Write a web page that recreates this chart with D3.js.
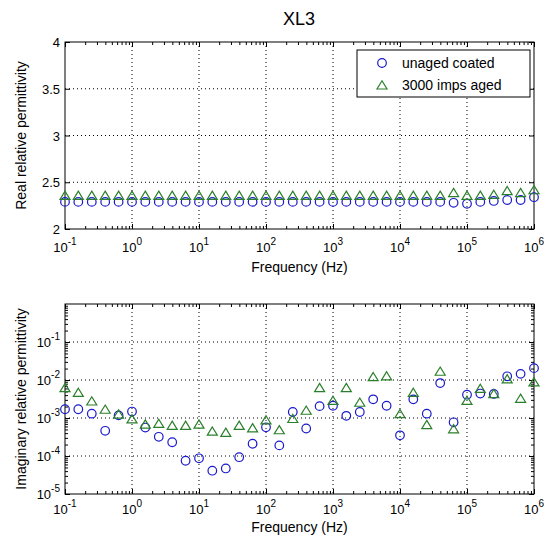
<!DOCTYPE html>
<html>
<head>
<meta charset="utf-8">
<script src="https://cdn.jsdelivr.net/npm/d3@7"></script>
<style>
body { margin: 0; background: #fff; }
text { font-family: "Liberation Sans", Arial, sans-serif; fill: #000; }
</style>
</head>
<body>
<div id="chart"></div>
<script>
var freqs = [0.1, 0.158, 0.251, 0.398, 0.631, 1, 1.58, 2.51, 3.98, 6.31,
    10, 15.8, 25.1, 39.8, 63.1, 100, 158, 251, 398, 631,
    1000, 1580, 2510, 3980, 6310, 10000, 15800, 25100, 39800, 63100,
    100000, 158000, 251000, 398000, 631000, 1000000];

var realUnaged = [2.29, 2.29, 2.29, 2.29, 2.29, 2.29, 2.29, 2.29, 2.29, 2.29,
    2.29, 2.29, 2.29, 2.29, 2.29, 2.29, 2.29, 2.29, 2.29, 2.29,
    2.29, 2.29, 2.29, 2.29, 2.29, 2.29, 2.29, 2.29, 2.29, 2.28,
    2.27, 2.29, 2.30, 2.31, 2.31, 2.34];
var realAged = [2.36, 2.36, 2.36, 2.36, 2.36, 2.36, 2.36, 2.36, 2.36, 2.36,
    2.36, 2.36, 2.36, 2.36, 2.36, 2.36, 2.36, 2.36, 2.36, 2.36,
    2.36, 2.36, 2.36, 2.36, 2.36, 2.36, 2.36, 2.36, 2.36, 2.39,
    2.36, 2.36, 2.37, 2.41, 2.39, 2.42];

var imagUnaged = [1.7e-3, 1.7e-3, 1.3e-3, 4.6e-4, 1.17e-3, 1.48e-3, 5.6e-4, 3.2e-4, 2.3e-4, 7.5e-5,
    8.7e-5, 4.1e-5, 4.7e-5, 9.3e-5, 2.1e-4, 5.7e-4, 1.9e-4, 1.44e-3, 5.3e-4, 2.05e-3,
    2.1e-3, 1.14e-3, 1.44e-3, 3.1e-3, 2.1e-3, 3.5e-4, 3.1e-3, 1.3e-3, 8.3e-3, 7.7e-4,
    4.1e-3, 4.4e-3, 4.3e-3, 1.25e-2, 1.45e-2, 2.05e-2];
var imagAged = [6.3e-3, 4.7e-3, 2.8e-3, 1.7e-3, 1.27e-3, 9.5e-4, 6.9e-4, 7.2e-4, 6.4e-4, 6.4e-4,
    6.9e-4, 4.5e-4, 4.2e-4, 6.4e-4, 5.5e-4, 8.9e-4, 4.9e-4, 9.7e-4, 1.6e-3, 6.3e-3,
    2.9e-3, 6.3e-3, 2.6e-3, 1.22e-2, 1.28e-2, 1.3e-3, 4.7e-3, 6.7e-4, 1.7e-2, 5.2e-4,
    2.9e-3, 6.0e-3, 4.4e-3, 1.07e-2, 3.3e-3, 8.9e-3];

var freqTicks = [0.1, 1, 10, 100, 1000, 10000, 100000, 1000000];
var realTicks = [2, 2.5, 3, 3.5, 4];
var imagTicks = [1e-5, 1e-4, 1e-3, 1e-2, 1e-1];
var seriesNames = ["unaged coated", "3000 imps aged"];

var blue = "#1a1acc", green = "#2a7f2a";
var plotW = 469;

var svg = d3.select("#chart")
    .append("svg")
    .attr("width", 550)
    .attr("height", 535);

var x = d3.scaleLog().domain([0.1, 1e6]).range([0, plotW]);

// minor ticks 2..9 for each decade inside a log domain
function minorTicks(lo, hi) {
    var out = [];
    for (var e = Math.floor(Math.log10(lo)); e <= Math.ceil(Math.log10(hi)); e++) {
        for (var m = 2; m <= 9; m++) {
            var v = m * Math.pow(10, e);
            if (v > lo && v < hi) out.push(v);
        }
    }
    return out;
}

// "10" with superscript exponent
function powLabel(sel) {
    sel.each(function(d) {
        var t = d3.select(this).text("");
        t.append("tspan").text("10");
        t.append("tspan")
            .attr("dy", -7)
            .style("font-size", "10px")
            .text(Math.round(Math.log10(d)));
    });
}

var triangle = "M0,-4.2L5,4L-5,4Z";

function panel(top, h, y, yTicks, logY, yLabel, tickY, xLabelY, dataA, dataB) {
    var g = svg.append("g").attr("transform", "translate(65," + top + ")");

    // grid
    g.append("g").selectAll("line")
        .data(freqTicks.slice(1, -1))
        .enter().append("line")
        .attr("x1", function(d) { return x(d); })
        .attr("x2", function(d) { return x(d); })
        .attr("y1", 0).attr("y2", h)
        .attr("stroke", "#000").attr("stroke-width", 1)
        .attr("stroke-dasharray", "1,3");
    g.append("g").selectAll("line")
        .data(yTicks.filter(function(d) { return y(d) > 0.5 && y(d) < h - 0.5; }))
        .enter().append("line")
        .attr("x1", 0).attr("x2", plotW)
        .attr("y1", function(d) { return y(d); })
        .attr("y2", function(d) { return y(d); })
        .attr("stroke", "#000").attr("stroke-width", 1)
        .attr("stroke-dasharray", "1,3");

    // inward ticks on all four sides
    var yMinor = logY ? minorTicks(1e-5, y.domain()[1]) : [];
    var axes = [
        [d3.axisBottom(x), "translate(0," + h + ")", freqTicks, minorTicks(0.1, 1e6)],
        [d3.axisTop(x), "translate(0,0)", freqTicks, minorTicks(0.1, 1e6)],
        [d3.axisLeft(y), "translate(0,0)", yTicks, yMinor],
        [d3.axisRight(y), "translate(" + plotW + ",0)", yTicks, yMinor]
    ];
    axes.forEach(function(a) {
        g.append("g").attr("transform", a[1])
            .call(a[0].tickValues(a[2]).tickSize(-5).tickFormat(""))
            .call(function(s) { s.select(".domain").remove(); });
        g.append("g").attr("transform", a[1])
            .call(a[0].tickValues(a[3]).tickSize(-3).tickFormat(""))
            .call(function(s) { s.select(".domain").remove(); });
    });
    g.selectAll(".tick line").attr("stroke", "#000");

    g.append("rect")
        .attr("width", plotW).attr("height", h)
        .attr("fill", "none").attr("stroke", "#000").attr("stroke-width", 1);

    // x tick labels
    g.append("g").selectAll("text")
        .data(freqTicks)
        .enter().append("text")
        .attr("x", function(d) { return x(d); })
        .attr("y", h + tickY)
        .attr("text-anchor", "middle")
        .style("font-size", "13px")
        .call(powLabel);

    // y tick labels
    var yl = g.append("g").selectAll("text")
        .data(yTicks)
        .enter().append("text")
        .attr("x", -5)
        .attr("y", function(d) { return y(d) + 5; })
        .attr("text-anchor", "end")
        .style("font-size", "13px");
    if (logY) yl.call(powLabel);
    else yl.text(function(d) { return d; });

    g.append("text")
        .attr("x", plotW / 2)
        .attr("y", h + xLabelY)
        .attr("text-anchor", "middle")
        .style("font-size", "14px")
        .text("Frequency (Hz)");

    g.append("text")
        .attr("transform", "translate(-39," + (h / 2) + ") rotate(-90)")
        .attr("text-anchor", "middle")
        .style("font-size", "14px")
        .text(yLabel);

    // markers
    g.append("g").selectAll("circle")
        .data(dataA)
        .enter().append("circle")
        .attr("cx", function(d, i) { return x(freqs[i]); })
        .attr("cy", function(d) { return y(d); })
        .attr("r", 4.3)
        .attr("fill", "none").attr("stroke", blue).attr("stroke-width", 1.2);
    g.append("g").selectAll("path")
        .data(dataB)
        .enter().append("path")
        .attr("d", triangle)
        .attr("transform", function(d, i) { return "translate(" + x(freqs[i]) + "," + y(d) + ")"; })
        .attr("fill", "none").attr("stroke", green).attr("stroke-width", 1.2);

    return g;
}

var yReal = d3.scaleLinear().domain([2, 4]).range([187, 0]);
var top1 = panel(42, 187, yReal, realTicks, false, "Real relative permittivity", 23, 43, realUnaged, realAged);

var yImag = d3.scaleLog().domain([1e-5, 1]).range([190, 0]);
panel(304, 190, yImag, imagTicks, true, "Imaginary relative permittivity", 20, 38, imagUnaged, imagAged);

// title
svg.append("text")
    .attr("x", 299)
    .attr("y", 25)
    .attr("text-anchor", "middle")
    .style("font-size", "18px")
    .text("XL3");

// legend
var lg = top1.append("g").attr("transform", "translate(292,8)");
lg.append("rect")
    .attr("width", 173).attr("height", 47)
    .attr("fill", "#fff").attr("stroke", "#000").attr("stroke-width", 1);
lg.append("circle")
    .attr("cx", 25).attr("cy", 13).attr("r", 4.3)
    .attr("fill", "none").attr("stroke", blue).attr("stroke-width", 1.2);
lg.append("path")
    .attr("d", triangle)
    .attr("transform", "translate(25,35)")
    .attr("fill", "none").attr("stroke", green).attr("stroke-width", 1.2);
lg.selectAll("text.lab")
    .data(seriesNames)
    .enter().append("text")
    .attr("class", "lab")
    .attr("x", 45)
    .attr("y", function(d, i) { return 18 + i * 22; })
    .style("font-size", "14px")
    .text(function(d) { return d; });
</script>
</body>
</html>
